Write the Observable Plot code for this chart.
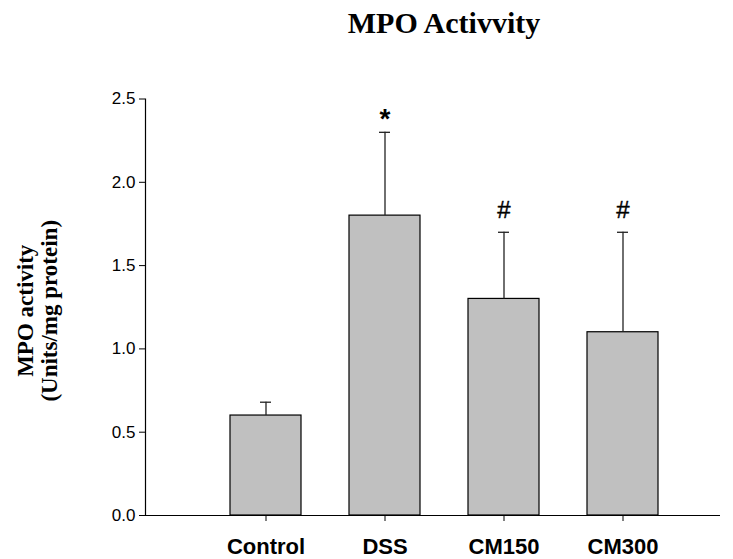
<!DOCTYPE html>
<html>
<head>
<meta charset="utf-8">
<script src="https://cdn.jsdelivr.net/npm/d3@7"></script>
<script src="https://cdn.jsdelivr.net/npm/@observablehq/plot@0.6"></script>
<style>
  html, body { margin: 0; padding: 0; background: #fff; overflow: hidden; }
  svg { display: block; }
</style>
</head>
<body>
<div id="chart"></div>
<script>
const categories = ["Control", "DSS", "CM150", "CM300"];
const means = [0.6, 1.8, 1.3, 1.1];
const errors = [0.08, 0.5, 0.4, 0.6];
const marks = ["", "*", "#", "#"];
const yTicks = [0, 0.5, 1.0, 1.5, 2.0, 2.5];
const title = "MPO Activvity";
const yLabel = "MPO activity\n(Units/mg protein)";

const data = categories.map((c, i) => ({cat: c, mean: means[i], err: errors[i], top: means[i] + errors[i], mark: marks[i]}));
const sans = "Liberation Sans, Arial, sans-serif";
const serif = "Liberation Serif, Times New Roman, serif";

const chart = Plot.plot({
  width: 733,
  height: 559,
  marginTop: 98.5,
  marginBottom: 44,
  marginLeft: 145,
  marginRight: 13,
  x: {type: "band", domain: categories, range: [229, 659], paddingInner: 0.4, paddingOuter: 0},
  y: {domain: [0, 2.5]},
  marks: [
    Plot.barY(data, {x: "cat", y: "mean", fill: "#c0c0c0", stroke: "#000", strokeWidth: 1.2}),
    Plot.ruleX(data, {x: "cat", y1: "mean", y2: "top", stroke: "#222", strokeWidth: 1.3}),
    Plot.tickY(data, {x: "cat", y: "top", stroke: "#222", strokeWidth: 1.3, insetLeft: 30, insetRight: 30}),
    Plot.text(data.filter(d => d.mark === "*"), {x: "cat", y: "top", text: "mark", dy: -13, fontSize: 28, fontWeight: "bold", fontFamily: sans, fill: "#000"}),
    Plot.text(data.filter(d => d.mark === "#"), {x: "cat", y: "top", text: "mark", dy: -22, fontSize: 24, fontFamily: sans, fill: "#000", stroke: "#000", strokeWidth: 0.4}),
    Plot.frame({anchor: "left", stroke: "#000", strokeWidth: 1.2}),
    Plot.ruleY([0], {stroke: "#000", strokeWidth: 1.2}),
    Plot.axisY({ticks: yTicks, tickFormat: d3.format(".1f"), tickSize: 6, tickPadding: 4, label: null,
      fontSize: 17, fontFamily: sans, fill: "#000"}),
    Plot.axisX({tickSize: 6, tickPadding: 17, label: null,
      fontSize: 22, fontWeight: "bold", fontFamily: sans, fill: "#000"}),
    Plot.text([title], {text: d => d, frameAnchor: "top", dy: -87.5, dx: 11, fontSize: 30, fontWeight: "bold",
      fontFamily: serif, fill: "#000"}),
    Plot.text([yLabel], {text: d => d, frameAnchor: "left", textAnchor: "middle", rotate: -90, dx: -108, dy: 3.5,
      fontSize: 23, lineHeight: 1.05, fontWeight: "bold", fontFamily: serif, fill: "#000"})
  ]
});
document.getElementById("chart").appendChild(chart);
</script>
</body>
</html>
